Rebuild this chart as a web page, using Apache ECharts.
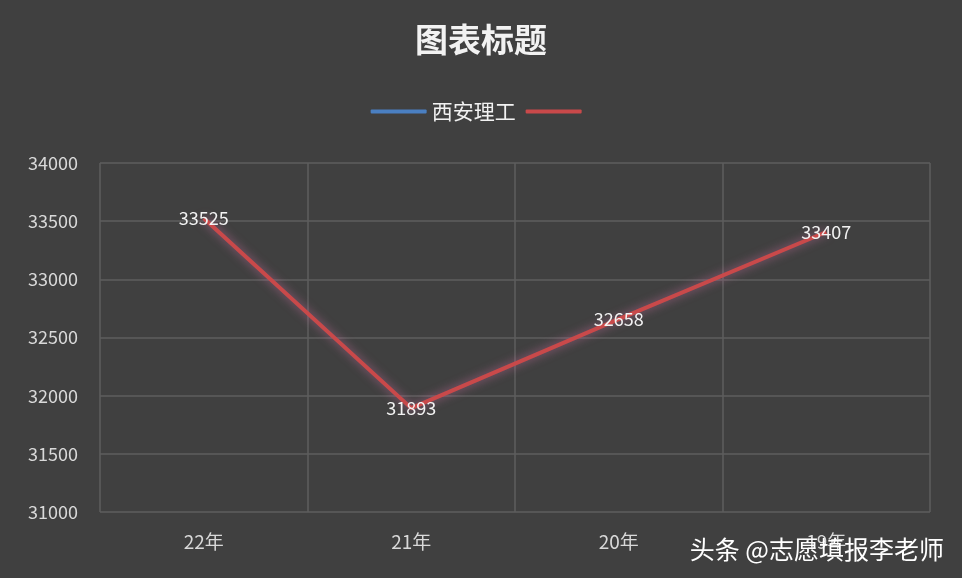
<!DOCTYPE html><html><head><meta charset="utf-8">
<script src="https://cdn.jsdelivr.net/npm/echarts@6/dist/echarts.min.js"></script>
<style>html,body{margin:0;padding:0;background:#404040}#c{width:962px;height:578px}</style></head>
<body><div id="c"></div><script>
const categories=['22年','21年','20年','19年'];
const values=[33525,31893,32658,33407];
const blueName='西安理工';
const ff='"Noto Sans CJK SC", sans-serif';
const chart=echarts.init(document.getElementById('c'));
chart.setOption({
backgroundColor:'#404040',
title:{text:'图表标题',left:'center',top:18,textStyle:{color:'#f2f2f2',fontSize:33,fontWeight:'bold',fontFamily:ff}},
legend:{top:96,left:'center',itemWidth:56,itemHeight:4,itemGap:10,icon:'roundRect',textStyle:{color:'#f2f2f2',fontSize:21,fontFamily:ff},
 data:[{name:blueName},{name:' '}]},
grid:{left:100,right:32,top:163,bottom:66},
xAxis:{type:'category',data:categories,boundaryGap:true,axisLine:{show:false},axisTick:{show:false},
 splitLine:{show:true,interval:0,lineStyle:{color:'#5e5e5e',width:1.5}},
 axisLabel:{color:'#d9d9d9',fontSize:19,margin:20,fontFamily:ff}},
yAxis:{type:'value',min:31000,max:34000,interval:500,axisLine:{show:false},axisTick:{show:false},
 splitLine:{lineStyle:{color:'#5e5e5e',width:1.5}},
 axisLabel:{color:'#d9d9d9',fontSize:18,margin:22,fontFamily:ff,formatter:v=>String(v)}},
graphic:[{type:'text',right:18,bottom:16,z:100,style:{text:'头条 @志愿填报李老师',fill:'#ffffff',fontSize:25,fontFamily:ff,shadowColor:'#000',shadowBlur:4}}],
series:[
 {name:blueName,type:'line',data:[],color:'#4a7fc1',lineStyle:{color:'#4a7fc1',width:4}},
 {name:' ',type:'line',data:values,color:'#c9494a',symbol:'circle',symbolSize:0.1,showSymbol:true,
  lineStyle:{color:'#c9494a',width:4,shadowColor:'rgba(230,120,180,0.6)',shadowBlur:10},
  label:{show:true,position:'inside',color:'#f2f2f2',fontSize:18,fontFamily:ff}}
]});
</script></body></html>
